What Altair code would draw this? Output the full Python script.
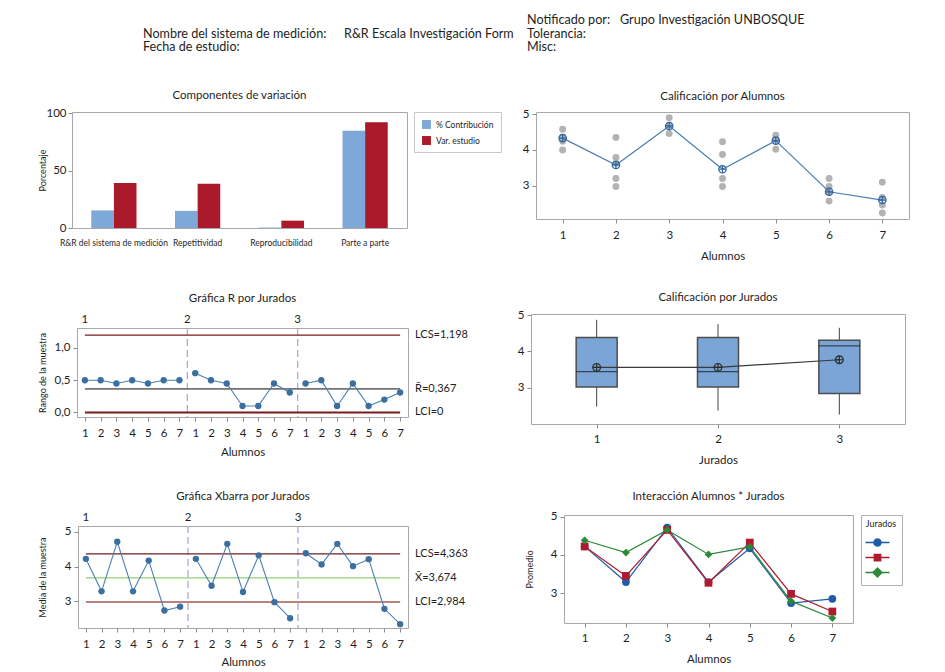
import altair as alt
import pandas as pd

FONT = "Lato"
TXT = "#1e1e1e"
FRAME = "#a8a8a8"
BLUE_BAR = "#7ea8d8"
RED_BAR = "#ab1a2a"
PT_BLUE = "#3b6fa0"
LINE_BLUE = "#4a7fb2"

# ---------------- header texts ----------------
hdr_left_labels = ["Nombre del sistema de medición:", "Fecha de estudio:"]
hdr_left_values = ["R&R Escala Investigación Form", ""]
hdr_right_labels = ["Notificado por:", "Tolerancia:", "Misc:"]
hdr_right_values = ["Grupo Investigación UNBOSQUE", "", ""]

# ---------------- Componentes de variación ----------------
componentes = ["R&R del sistema de medición", "Repetitividad", "Reproducibilidad", "Parte a parte"]
series = ["% Contribución", "Var. estudio"]
pct_contribucion = [15.3, 14.9, 0.4, 84.7]
pct_var_estudio = [39.1, 38.6, 6.4, 92.0]

# ---------------- Calificación por Alumnos ----------------
alumnos = [1, 2, 3, 4, 5, 6, 7]
alumno_media = [4.33, 3.58, 4.67, 3.46, 4.26, 2.83, 2.60]
calif_a1 = [4.58, 4.35, 4.24, 4.00]
calif_a2 = [4.35, 3.79, 3.63, 3.20, 2.98]
calif_a3 = [4.90, 4.69, 4.46]
calif_a4 = [4.23, 3.87, 3.20, 2.98]
calif_a5 = [4.41, 4.30, 4.02]
calif_a6 = [3.20, 2.98, 2.81, 2.57]
calif_a7 = [3.10, 2.67, 2.46, 2.24]

# ---------------- per jurado ----------------
jurados = [1, 2, 3]
media_j1 = [4.22, 3.29, 4.71, 3.29, 4.17, 2.74, 2.85]
media_j2 = [4.22, 3.45, 4.65, 3.27, 4.32, 2.98, 2.52]
media_j3 = [4.38, 4.06, 4.65, 4.01, 4.21, 2.79, 2.35]
rango_j1 = [0.50, 0.50, 0.45, 0.50, 0.45, 0.50, 0.50]
rango_j2 = [0.61, 0.50, 0.45, 0.10, 0.10, 0.45, 0.31]
rango_j3 = [0.45, 0.50, 0.10, 0.45, 0.10, 0.20, 0.31]

# control limits
r_lim_names = ["LCS", "media", "LCI"]
r_lim_labels = ["LCS=1,198", "R\u0304=0,367", "LCI=0"]
r_lim_values = [1.198, 0.367, 0.0]
x_lim_names = ["LCS", "media", "LCI"]
x_lim_labels = ["LCS=4,363", "X\u0304=3,674", "LCI=2,984"]
x_lim_values = [4.363, 3.674, 2.984]

# box plot summaries per jurado
jur_q1 = [3.02, 3.02, 2.84]
jur_mediana = [3.44, 3.44, 4.15]
jur_q3 = [4.38, 4.38, 4.31]
jur_min = [2.48, 2.37, 2.26]
jur_max = [4.87, 4.75, 4.65]
jur_media = [3.56, 3.56, 3.77]

# ---------------- tables ----------------
df_hdr = pd.DataFrame({
    "texto": hdr_left_labels + hdr_left_values + hdr_right_labels + hdr_right_values,
    "fila": [1, 2, 1, 2, 0, 1, 2, 0, 1, 2],
    "col": [0, 0, 1, 1, 2, 2, 2, 3, 3, 3],
})

df_bar = pd.DataFrame({
    "componente": componentes * 2,
    "serie": [series[0]] * 4 + [series[1]] * 4,
    "valor": pct_contribucion + pct_var_estudio,
})

calif_all = [calif_a1, calif_a2, calif_a3, calif_a4, calif_a5, calif_a6, calif_a7]
df_read = pd.DataFrame({
    "alumno": [a for a, lst in zip(alumnos, calif_all) for _ in lst],
    "calif": [v for lst in calif_all for v in lst],
})
df_amean = pd.DataFrame({"alumno": alumnos, "media": alumno_media})

medias = [media_j1, media_j2, media_j3]
rangos = [rango_j1, rango_j2, rango_j3]
rows = []
for ji, j in enumerate(jurados):
    for ai, a in enumerate(alumnos):
        rows.append({"idx": ji * len(alumnos) + a, "jurado": str(j), "alumno": a,
                     "media": medias[ji][ai], "rango": rangos[ji][ai]})
df_ctrl = pd.DataFrame(rows)
n_pts = len(df_ctrl)

df_sep = pd.DataFrame({"pos": [len(alumnos) * k + 0.5 for k in (1, 2)]})
df_jlab = pd.DataFrame({"pos": [1, len(alumnos) + 0.5, 2 * len(alumnos) + 0.5],
                        "jurado": [str(j) for j in jurados]})

df_rlim = pd.DataFrame({"nombre": r_lim_names, "etiqueta": r_lim_labels, "valor": r_lim_values,
                        "x0": 1, "x1": n_pts})
df_xlim = pd.DataFrame({"nombre": x_lim_names, "etiqueta": x_lim_labels,
                        "valor": x_lim_values, "x0": 1, "x1": n_pts})

df_box = pd.DataFrame({"jurado": jurados, "q1": jur_q1, "mediana": jur_mediana,
                       "q3": jur_q3, "lo": jur_min, "hi": jur_max, "media": jur_media})

PLUS = "M-1,0L1,0M0,-1L0,1"
RES = dict(color="independent", fill="independent", stroke="independent", shape="independent")


def spacer(w, h):
    return alt.Chart(pd.DataFrame({"z": [0]})).mark_point(opacity=0).encode(
        x=alt.value(0), y=alt.value(0)
    ).properties(width=w, height=h, view=alt.ViewBackground(stroke="transparent"))


def shift(ch, dx, dy):
    c = ch
    if dy:
        c = alt.vconcat(spacer(1, dy), c, spacing=0, bounds="flush").resolve_scale(**RES)
    if dx:
        c = alt.hconcat(spacer(dx, 1), c, spacing=0, bounds="flush").resolve_scale(**RES)
    return c


# ---------------- header ----------------
hdr_y = alt.Y("fila:Q", axis=None,
              scale=alt.Scale(domain=[-0.815, 2.963], reverse=True, nice=False, zero=False))
hdr_x = [71, 272, 455, 548]
hdr_layers = []
for c, xp in enumerate(hdr_x):
    hdr_layers.append(
        alt.Chart(df_hdr).transform_filter(f"datum.col == {c}").mark_text(
            align="left", baseline="middle", font=FONT, fontSize=12.6, color=TXT
        ).encode(x=alt.value(xp), y=hdr_y, text="texto:N")
    )
header = alt.layer(*hdr_layers).properties(width=840, height=51,
                                           view=alt.ViewBackground(stroke="transparent"))

# ---------------- bar chart ----------------
bar = alt.Chart(df_bar).mark_bar().encode(
    x=alt.X("componente:N", sort=componentes, title=None,
            scale=alt.Scale(paddingInner=0.46, paddingOuter=0.23),
            axis=alt.Axis(labelAngle=0, ticks=False, labelFontSize=8.5, labelPadding=10,
                          labelOverlap=False, labelLimit=300)),
    xOffset=alt.XOffset("serie:N", sort=series),
    y=alt.Y("valor:Q", title="Porcentaje", scale=alt.Scale(domain=[0, 101], nice=False),
            axis=alt.Axis(values=[0, 50, 100], titleX=-30, titleY=58, titleFontSize=9,
                          titleAlign="center", titleBaseline="middle")),
    color=alt.Color("serie:N", sort=series, scale=alt.Scale(domain=series, range=[BLUE_BAR, RED_BAR]),
                    legend=alt.Legend(title=None, orient="none", legendX=342, legendY=0,
                                      strokeColor="#c8c8c8", fillColor="white", padding=7,
                                      symbolType="square", symbolSize=80, labelFontSize=8.5,
                                      rowPadding=6, labelFont=FONT, symbolOpacity=1)),
).properties(width=335, height=116,
             title=alt.TitleParams("Componentes de variación", offset=6))

# ---------------- calificación por alumnos ----------------
xA = alt.X("alumno:Q", title="Alumnos",
           scale=alt.Scale(domain=[0.5, 7.5], nice=False, zero=False),
           axis=alt.Axis(values=alumnos, format="d", labelPadding=6, titlePadding=10))
yA = alt.Y("calif:Q", title=None, scale=alt.Scale(domain=[2.07, 5.06], nice=False, zero=False),
           axis=alt.Axis(values=[3, 4, 5], format="d", labelPadding=3))
yAm = alt.Y("media:Q", title=None, scale=alt.Scale(domain=[2.07, 5.06], nice=False, zero=False),
            axis=alt.Axis(values=[3, 4, 5], format="d", labelPadding=3))
a_pts = alt.Chart(df_read).mark_circle(size=48, color="#b3b3b3", opacity=1).encode(x=xA, y=yA)
a_line = alt.Chart(df_amean).mark_line(color=LINE_BLUE, strokeWidth=1.2).encode(x=xA, y=yAm)
a_circ = alt.Chart(df_amean).mark_point(shape="circle", filled=False, size=55, color="#2f66a0",
                                        strokeWidth=1.2, opacity=1).encode(x=xA, y=yAm)
a_plus = alt.Chart(df_amean).mark_point(shape=PLUS, filled=False, size=55, color="#2f66a0",
                                        strokeWidth=1.2, opacity=1).encode(x=xA, y=yAm)
alum = alt.layer(a_pts, a_line, a_circ, a_plus).properties(
    width=373, height=107, title=alt.TitleParams("Calificación por Alumnos", offset=6))

# ---------------- control charts shared x ----------------
xC_scale = alt.Scale(domain=[0.5, n_pts + 0.5], nice=False, zero=False)


def xC_axis(tp):
    return alt.Axis(values=list(range(1, n_pts + 1)), labelOverlap=False,
                    labelExpr="((datum.value - 1) % 7) + 1", labelPadding=6, titlePadding=tp)


def ctrl_layers(tp):
    ax = xC_axis(tp)
    sep = alt.Chart(df_sep).mark_rule(color="#a8a4d6", strokeWidth=1.2, strokeDash=[7, 4]).encode(
        x=alt.X("pos:Q", scale=xC_scale, axis=ax, title="Alumnos"))
    lab = alt.Chart(df_jlab).mark_text(font=FONT, fontSize=11.5, color=TXT, baseline="middle").encode(
        x=alt.X("pos:Q", scale=xC_scale, axis=ax, title="Alumnos"), y=alt.value(-8), text="jurado:N")
    xenc = alt.X("idx:Q", scale=xC_scale, axis=ax, title="Alumnos")
    x0enc = alt.X("x0:Q", scale=xC_scale, axis=ax, title="Alumnos")
    return sep, lab, xenc, x0enc


# ---------------- R chart ----------------
r_sep, r_jlab, r_x, r_x0 = ctrl_layers(8)
r_scale = alt.Scale(domain=[-0.07, 1.31], nice=False, zero=False)
r_axis = alt.Axis(values=[0, 0.5, 1.0], labelExpr="replace(format(datum.value, '.1f'), '.', ',')",
                  title="Rango de la muestra", titleX=-35, titleY=44.5, titleFontSize=9,
                  titleAlign="center", titleBaseline="middle", labelPadding=3)
r_rules = alt.Chart(df_rlim).mark_rule().encode(
    x=r_x0, x2="x1:Q", y=alt.Y("valor:Q", scale=r_scale, axis=r_axis),
    color=alt.Color("nombre:N", scale=alt.Scale(domain=r_lim_names,
                                                range=["#7a1c1c", "#737373", "#7a1c1c"]), legend=None),
    strokeWidth=alt.StrokeWidth("nombre:N", scale=alt.Scale(domain=r_lim_names, range=[1.2, 2.2, 1.2]),
                                legend=None))
r_labels = alt.Chart(df_rlim).mark_text(align="left", baseline="middle", dx=7, font=FONT,
                                        fontSize=11, color=TXT).encode(
    x=alt.value(331), y=alt.Y("valor:Q", scale=r_scale, axis=r_axis), text="etiqueta:N")
r_line = alt.Chart(df_ctrl).mark_line(color=LINE_BLUE, strokeWidth=1.1).encode(
    x=r_x, y=alt.Y("rango:Q", scale=r_scale, axis=r_axis), detail="jurado:N")
r_pts = alt.Chart(df_ctrl).mark_circle(size=40, color=PT_BLUE, opacity=1).encode(
    x=r_x, y=alt.Y("rango:Q", scale=r_scale, axis=r_axis))
rchart = alt.layer(r_sep, r_rules, r_line, r_pts, r_labels, r_jlab).properties(
    width=331, height=89, title=alt.TitleParams("Gráfica R por Jurados", offset=10))

# ---------------- box plot by jurado ----------------
xJ = alt.X("jurado:Q", title="Jurados", scale=alt.Scale(domain=[0.5, 3.5], nice=False, zero=False),
           axis=alt.Axis(values=jurados, format="d", labelPadding=5, titlePadding=10))
b_scale = alt.Scale(domain=[2.0, 5.03], nice=False, zero=False)
b_axis = alt.Axis(values=[3, 4, 5], format="d", labelPadding=3, title=None)
b_lo = alt.Chart(df_box).mark_rule(color="#404040", strokeWidth=1).encode(
    x=xJ, y=alt.Y("lo:Q", scale=b_scale, axis=b_axis), y2="q1:Q")
b_hi = alt.Chart(df_box).mark_rule(color="#404040", strokeWidth=1).encode(
    x=xJ, y=alt.Y("q3:Q", scale=b_scale, axis=b_axis), y2="hi:Q")
b_box = alt.Chart(df_box).mark_bar(width=41, color="#7ba5d6", stroke="#4d4d4d", strokeWidth=1.5).encode(
    x=xJ, y=alt.Y("q1:Q", scale=b_scale, axis=b_axis), y2="q3:Q")
b_med = alt.Chart(df_box).mark_tick(orient="horizontal", size=41, thickness=1.2, color="#1a1a1a").encode(
    x=xJ, y=alt.Y("mediana:Q", scale=b_scale, axis=b_axis))
b_line = alt.Chart(df_box).mark_line(color="#3a3a3a", strokeWidth=1.2).encode(
    x=xJ, y=alt.Y("media:Q", scale=b_scale, axis=b_axis))
b_circ = alt.Chart(df_box).mark_point(shape="circle", filled=False, size=60, color="#2a2a2a",
                                      strokeWidth=1.2, opacity=1).encode(
    x=xJ, y=alt.Y("media:Q", scale=b_scale, axis=b_axis))
b_plus = alt.Chart(df_box).mark_point(shape=PLUS, filled=False, size=60, color="#2a2a2a",
                                      strokeWidth=1.2, opacity=1).encode(
    x=xJ, y=alt.Y("media:Q", scale=b_scale, axis=b_axis))
boxc = alt.layer(b_lo, b_hi, b_box, b_med, b_line, b_circ, b_plus).properties(
    width=374, height=110, title=alt.TitleParams("Calificación por Jurados", offset=6))

# ---------------- Xbar chart ----------------
x_sep, x_jlab, x_x, x_x0 = ctrl_layers(7)
x_scale = alt.Scale(domain=[2.24, 5.16], nice=False, zero=False)
x_axis = alt.Axis(values=[3, 4, 5], format="d", title="Media de la muestra", titleX=-36, titleY=51,
                  titleFontSize=9, titleAlign="center", titleBaseline="middle", labelPadding=3)
x_rules = alt.Chart(df_xlim).mark_rule(strokeWidth=1.3).encode(
    x=x_x0, x2="x1:Q", y=alt.Y("valor:Q", scale=x_scale, axis=x_axis),
    color=alt.Color("nombre:N", scale=alt.Scale(domain=x_lim_names,
                                                range=["#6e1f1f", "#8fce77", "#a55a4e"]), legend=None))
x_labels = alt.Chart(df_xlim).mark_text(align="left", baseline="middle", dx=7, font=FONT,
                                        fontSize=11, color=TXT).encode(
    x=alt.value(330), y=alt.Y("valor:Q", scale=x_scale, axis=x_axis), text="etiqueta:N")
x_line = alt.Chart(df_ctrl).mark_line(color=LINE_BLUE, strokeWidth=1.1).encode(
    x=x_x, y=alt.Y("media:Q", scale=x_scale, axis=x_axis), detail="jurado:N")
x_pts = alt.Chart(df_ctrl).mark_circle(size=40, color=PT_BLUE, opacity=1).encode(
    x=x_x, y=alt.Y("media:Q", scale=x_scale, axis=x_axis))
xchart = alt.layer(x_sep, x_rules, x_line, x_pts, x_labels, x_jlab).properties(
    width=330, height=102, title=alt.TitleParams("Gráfica Xbarra por Jurados", offset=10))

# ---------------- interaction plot ----------------
jdom = [str(j) for j in jurados]
jleg_dom = ["J" + j for j in jdom]
jcolors = ["#1f5ba8", "#b01a2e", "#2b8a36"]
jshapes = ["circle", "square", "diamond"]
xI = alt.X("alumno:Q", title="Alumnos", scale=alt.Scale(domain=[0.5, 7.5], nice=False, zero=False),
           axis=alt.Axis(values=alumnos, format="d", labelPadding=5, titlePadding=10))
yI = alt.Y("media:Q", title="Promedio", scale=alt.Scale(domain=[2.22, 5.04], nice=False, zero=False),
           axis=alt.Axis(values=[3, 4, 5], format="d", labelPadding=3, titleX=-35, titleY=54,
                         titleFontSize=9, titleAlign="center", titleBaseline="middle"))
col_scale = alt.Scale(domain=jdom, range=jcolors)
i_line = alt.Chart(df_ctrl).mark_line(strokeWidth=1.2).encode(
    x=xI, y=yI, color=alt.Color("jurado:N", scale=col_scale, legend=None))
i_pts = [
    alt.Chart(df_ctrl).transform_filter(f"datum.jurado == '{j}'").mark_point(
        filled=True, size=60, opacity=1, shape=s).encode(
        x=xI, y=yI, color=alt.Color("jurado:N", scale=col_scale, legend=None))
    for j, s in zip(jdom, jshapes)
]
leg = alt.Legend(title="Jurados", orient="none", legendX=297, legendY=0, strokeColor="#b0b0b0",
                 fillColor="white", padding=5, titleFontSize=9, titleFont=FONT,
                 titleFontWeight="normal", titleAnchor="middle", labelExpr="''", labelOffset=0,
                 symbolSize=225, symbolStrokeWidth=1.3, rowPadding=-1, symbolOpacity=1)
leg_paths = ["M-1.6,0L1.6,0M0.48,0A0.48,0.48 0 1,1 -0.48,0A0.48,0.48 0 1,1 0.48,0",
             "M-1.6,0L1.6,0M-0.43,-0.43L0.43,-0.43L0.43,0.43L-0.43,0.43Z",
             "M-1.6,0L1.6,0M0,-0.6L0.6,0L0,0.6L-0.6,0Z"]
leg_col_scale = alt.Scale(domain=jleg_dom, range=jcolors)
i_leg = alt.Chart(df_ctrl).transform_filter("datum.idx < 0").transform_calculate(
    jur="'J' + datum.jurado"
).mark_point(filled=True, size=225, opacity=1).encode(
    x=xI, y=yI,
    fill=alt.Fill("jur:N", scale=leg_col_scale, legend=leg),
    stroke=alt.Stroke("jur:N", scale=leg_col_scale, legend=leg),
    shape=alt.Shape("jur:N", scale=alt.Scale(domain=jleg_dom, range=leg_paths), legend=leg))
inter = alt.layer(i_line, *i_pts, i_leg).properties(
    width=289, height=108, title=alt.TitleParams("Interacción Alumnos * Jurados", offset=8))

# ---------------- layout ----------------
row1 = alt.hconcat(bar, alum, spacing=19).resolve_scale(**RES)
row2 = alt.hconcat(shift(rchart, 5, 14), boxc, spacing=47).resolve_scale(**RES)
row3 = alt.hconcat(shift(xchart, 6, 11), inter, spacing=55).resolve_scale(**RES)
inner = alt.vconcat(row2, row3, spacing=23).resolve_scale(**RES)
chart = alt.vconcat(header, row1, inner, spacing=28).resolve_scale(**RES).properties(
    padding={"left": 29, "top": 0, "right": 0, "bottom": 0},
    background="white",
).configure_view(stroke=FRAME, strokeWidth=1).configure_axis(
    grid=False, domain=False, tickColor="#8c8c8c", tickSize=4, labelOverlap=False,
    labelFont=FONT, labelFontSize=11.5, labelColor=TXT,
    titleFont=FONT, titleFontSize=11.5, titleFontWeight="normal", titleColor=TXT,
).configure_title(
    font=FONT, fontSize=11.5, fontWeight="normal", color=TXT, anchor="middle", frame="group"
).configure_legend(labelFont=FONT, labelColor=TXT, titleColor=TXT)

chart.save("out.html", embed_options={"renderer": "svg", "actions": False})
